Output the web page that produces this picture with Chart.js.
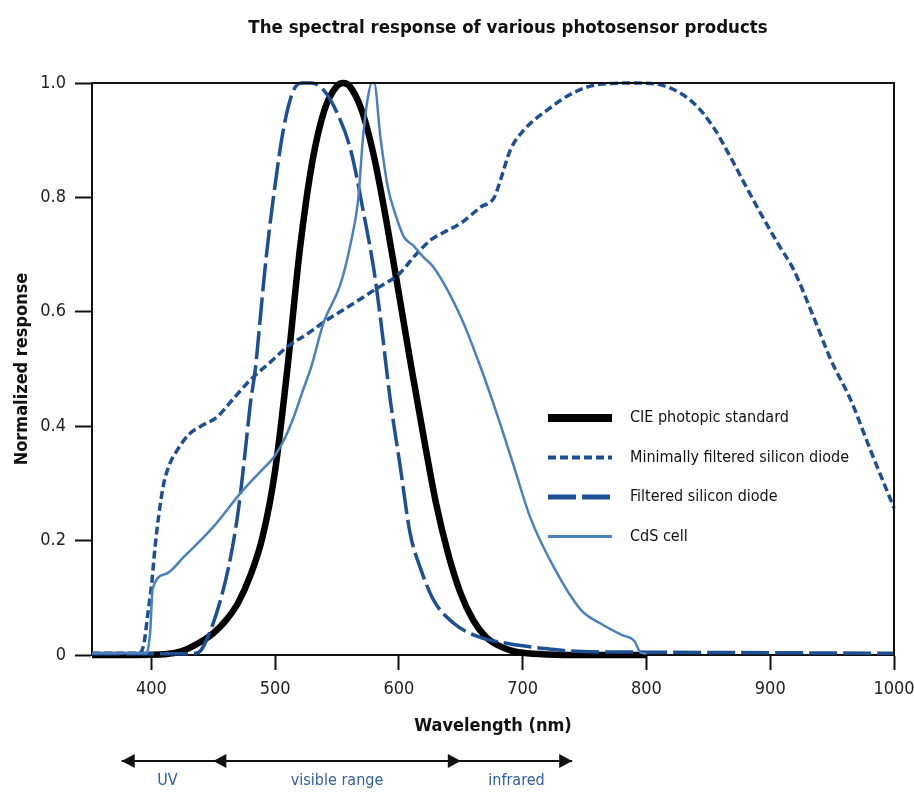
<!DOCTYPE html>
<html lang="en">
<head>
<meta charset="UTF-8">
<title>Spectral response of photosensors</title>
<script src="https://cdn.jsdelivr.net/npm/chart.js@4.4.1/dist/chart.umd.min.js"></script>
<style>
	html, body { margin: 0; padding: 0; background: #fff; }
	canvas { display: block; }
</style>
</head>
<body>
<canvas id="myChart" width="914" height="792"></canvas>
<script>
// Je récupère mon canvas
const ctx = document.querySelector("#myChart").getContext("2d");

// Courbe CIE photopique (longueur d'onde en nm / réponse normalisée)
const cieNm = [352, 380, 400, 410, 420, 430, 440, 450, 460, 470, 480, 490, 500, 510, 520, 530, 540, 550, 555, 560, 570, 580, 590, 600, 610, 620, 630, 640, 650, 660, 670, 680, 690, 700, 720, 750, 800];
const cieVal = [0, 0.0001, 0.0004, 0.0012, 0.004, 0.0116, 0.023, 0.038, 0.06, 0.091, 0.139, 0.208, 0.323, 0.503, 0.71, 0.862, 0.954, 0.995, 1.0, 0.995, 0.952, 0.87, 0.757, 0.631, 0.503, 0.381, 0.265, 0.175, 0.107, 0.061, 0.032, 0.017, 0.008, 0.004, 0.001, 0, 0];

// Diode silicium peu filtrée
const minNm = [352, 390, 394, 397, 400, 403, 406, 410, 415, 420, 430, 440, 453, 465, 480, 495, 510, 525, 542, 560, 580, 601, 612, 626, 639, 650, 666, 677, 682, 690, 701, 720, 741, 760, 793, 817, 838, 854, 866, 879, 892, 906, 919, 935, 949, 965, 981, 1000];
const minVal = [0.003, 0.003, 0.02, 0.07, 0.12, 0.19, 0.245, 0.3, 0.335, 0.355, 0.385, 0.4, 0.416, 0.445, 0.481, 0.51, 0.539, 0.56, 0.586, 0.61, 0.638, 0.668, 0.696, 0.726, 0.742, 0.755, 0.783, 0.8, 0.83, 0.883, 0.918, 0.953, 0.983, 0.997, 1.0, 0.993, 0.965, 0.923, 0.878, 0.825, 0.773, 0.72, 0.673, 0.591, 0.516, 0.446, 0.358, 0.257];

// Diode silicium filtrée
const filNm = [352, 420, 436, 440, 448, 455, 462, 468, 472, 476, 480, 484, 488, 492, 498, 507, 515, 522, 529, 539, 550, 561, 571, 580, 585, 593, 601, 609, 617, 628, 644, 664, 688, 715, 747, 800, 900, 1000];
const filVal = [0.002, 0.002, 0.003, 0.008, 0.044, 0.09, 0.15, 0.22, 0.283, 0.36, 0.44, 0.5, 0.59, 0.68, 0.79, 0.923, 0.988, 1.0, 1.0, 0.988, 0.948, 0.883, 0.778, 0.67, 0.59, 0.446, 0.33, 0.213, 0.154, 0.096, 0.056, 0.032, 0.02, 0.012, 0.006, 0.005, 0.004, 0.003];

// Cellule CdS
const cdsNm = [352, 396, 399, 401, 412, 426, 450, 472, 490, 499, 508, 515, 522, 529, 539, 553, 561, 567, 571, 575, 578, 580, 585, 591, 596, 604, 612, 620, 628, 650, 666, 680, 693, 706, 725, 747, 763, 780, 790, 795, 800];
const cdsVal = [0.003, 0.003, 0.04, 0.115, 0.142, 0.171, 0.224, 0.283, 0.325, 0.346, 0.38, 0.416, 0.46, 0.503, 0.58, 0.65, 0.72, 0.795, 0.906, 0.976, 1.0, 1.0, 0.906, 0.818, 0.778, 0.731, 0.715, 0.695, 0.678, 0.591, 0.503, 0.416, 0.329, 0.241, 0.154, 0.079, 0.055, 0.035, 0.025, 0.005, 0.002];

// Les graduations des axes
const xTicks = [400, 500, 600, 700, 800, 900, 1000];
const yTicks = [0, 0.2, 0.4, 0.6, 0.8, 1.0];

// Les bandes sous l'axe (limites en nm)
const bandNames = ["UV", "visible range", "infrared"];
const bandEdges = [376, 450, 650, 740];

const TITLE = "The spectral response of various photosensor products";
const FONT = "'DejaVu Sans Condensed', 'Liberation Sans Narrow', sans-serif";
const DARK_BLUE = "#1d4f94";
const LIGHT_BLUE = "#4b80bf";
const INK = "#111";

// Je transforme mes deux tableaux en points {x, y}
function toPoints(nm, val) {
	return nm.map((x, i) => ({ x: x, y: val[i] }));
}

// Petite flèche pleine, pointe en (x, y)
function arrowHead(c, x, y, dir) {
	c.beginPath();
	c.moveTo(x, y);
	c.lineTo(x - dir * 13, y - 7);
	c.lineTo(x - dir * 13, y + 7);
	c.closePath();
	c.fill();
}

// Plugin maison : titre, cadre, légende et flèches des bandes
const decor = {
	id: "decor",
	afterDraw(chart) {
		const c = chart.ctx;
		const area = chart.chartArea;
		const xs = chart.scales.x;
		c.save();

		// cadre haut + droite
		c.strokeStyle = INK;
		c.lineWidth = 2;
		c.beginPath();
		c.moveTo(area.left, area.top);
		c.lineTo(area.right, area.top);
		c.lineTo(area.right, area.bottom);
		c.stroke();

		// titre
		c.fillStyle = INK;
		c.font = "bold 18.5px " + FONT;
		c.textAlign = "center";
		c.textBaseline = "middle";
		c.fillText(TITLE, (area.left + area.right) / 2 + 15, 28);

		// légende dans le graphique
		c.font = "16px " + FONT;
		c.textAlign = "left";
		chart.data.datasets.forEach((ds, i) => {
			const y = area.top + 335 + i * 39.5;
			c.strokeStyle = ds.borderColor;
			c.lineWidth = ds.legendWidth;
			c.setLineDash(ds.borderDash || []);
			c.beginPath();
			c.moveTo(area.left + 456, y);
			c.lineTo(area.left + 520, y);
			c.stroke();
			c.setLineDash([]);
			c.fillStyle = INK;
			c.fillText(ds.label, area.left + 538, y);
		});

		// flèches UV / visible / infrarouge
		const yA = 761;
		const px = bandEdges.map((v) => xs.getPixelForValue(v));
		c.strokeStyle = INK;
		c.fillStyle = INK;
		c.lineWidth = 2;
		c.beginPath();
		c.moveTo(px[0], yA);
		c.lineTo(px[3], yA);
		c.stroke();
		arrowHead(c, px[0], yA, -1);
		arrowHead(c, px[1], yA, -1);
		arrowHead(c, px[2], yA, 1);
		arrowHead(c, px[3], yA, 1);

		c.fillStyle = "#2f5f9e";
		c.font = "16px " + FONT;
		c.textAlign = "center";
		bandNames.forEach((name, i) => {
			const mid = xs.getPixelForValue((bandEdges[i] + bandEdges[i + 1]) / 2);
			c.fillText(name, mid, 781);
		});

		c.restore();
	},
};

const CONFIG = {
	type: "line",
	data: {
		datasets: [
			{
				label: "CIE photopic standard",
				data: toPoints(cieNm, cieVal),
				borderColor: "#000",
				borderWidth: 6.5,
				legendWidth: 8,
				order: 3,
			},
			{
				label: "Minimally filtered silicon diode",
				data: toPoints(minNm, minVal),
				borderColor: DARK_BLUE,
				borderWidth: 3.5,
				borderDash: [8, 4],
				legendWidth: 4,
				order: 1,
			},
			{
				label: "Filtered silicon diode",
				data: toPoints(filNm, filVal),
				borderColor: DARK_BLUE,
				borderWidth: 3.5,
				borderDash: [28, 6],
				legendWidth: 5,
				order: 2,
			},
			{
				label: "CdS cell",
				data: toPoints(cdsNm, cdsVal),
				borderColor: LIGHT_BLUE,
				borderWidth: 2.5,
				legendWidth: 3,
				order: 0,
			},
		],
	},
	options: {
		responsive: false,
		animation: false,
		devicePixelRatio: 1,
		layout: { padding: { top: 83, right: 20, bottom: 47, left: 0 } },
		elements: {
			point: { radius: 0 },
			line: { cubicInterpolationMode: "monotone", fill: false, borderCapStyle: "butt" },
		},
		datasets: { line: { clip: false } },
		plugins: {
			legend: { display: false },
			tooltip: { enabled: false },
		},
		scales: {
			x: {
				type: "linear",
				min: 352,
				max: 1000,
				afterFit: (scale) => {
					scale.height = 90;
					scale.paddingLeft = 0;
					scale.paddingRight = 0;
				},
				afterBuildTicks: (scale) => { scale.ticks = xTicks.map((v) => ({ value: v })); },
				grid: { drawOnChartArea: false, drawTicks: true, tickLength: 15, tickWidth: 2, tickColor: INK },
				border: { display: true, color: INK, width: 2 },
				ticks: {
					autoSkip: false,
					maxRotation: 0,
					padding: 9,
					color: "#222",
					font: { family: FONT, size: 18 },
					callback: (v) => String(v),
				},
				title: {
					display: true,
					text: "Wavelength (nm)",
					color: INK,
					font: { family: FONT, size: 18, weight: "bold" },
					padding: { top: 0, bottom: 8 },
				},
			},
			y: {
				min: 0,
				max: 1,
				afterFit: (scale) => {
					scale.width = 92;
					scale.paddingTop = 0;
					scale.paddingBottom = 0;
				},
				afterBuildTicks: (scale) => { scale.ticks = yTicks.map((v) => ({ value: v })); },
				grid: { drawOnChartArea: false, drawTicks: true, tickLength: 17, tickWidth: 2, tickColor: INK },
				border: { display: true, color: INK, width: 2 },
				ticks: {
					padding: 9,
					color: "#222",
					font: { family: FONT, size: 18 },
					callback: (v) => (v === 0 ? "0" : v.toFixed(1)),
				},
				title: {
					display: true,
					text: "Normalized response",
					color: INK,
					font: { family: FONT, size: 18, weight: "bold" },
					padding: { top: 12, bottom: 0 },
				},
			},
		},
	},
	plugins: [decor],
};

const chartLine = new Chart(ctx, CONFIG);
</script>
</body>
</html>
